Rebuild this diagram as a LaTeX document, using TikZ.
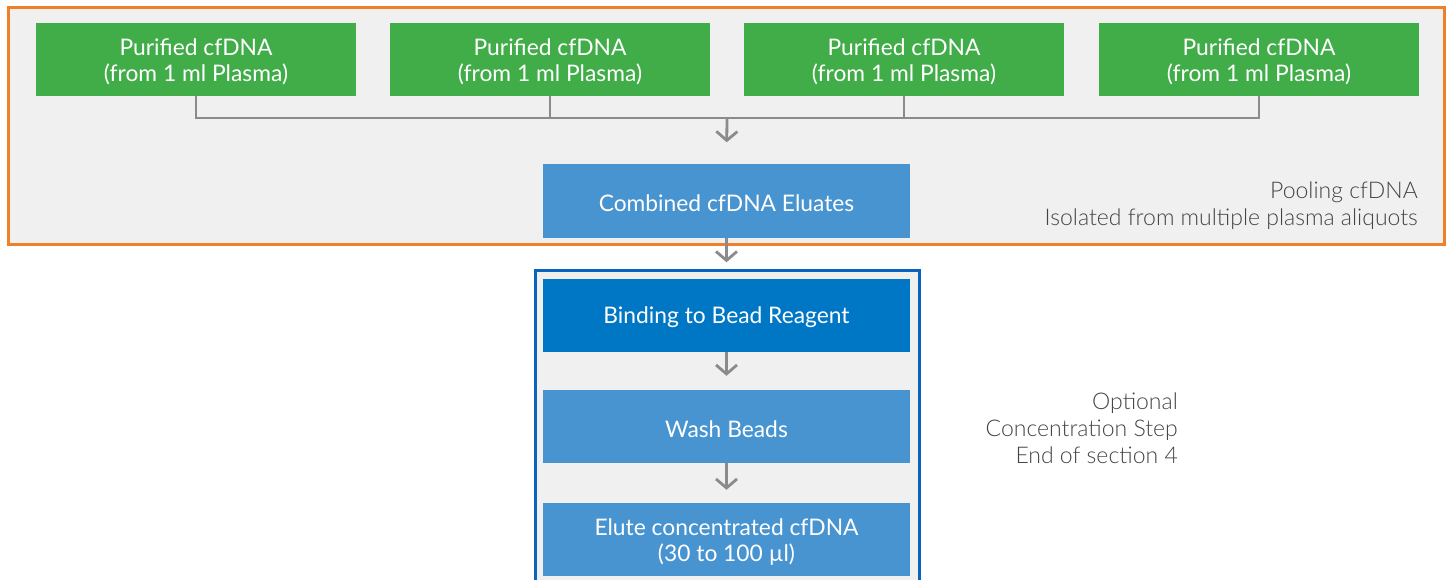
\documentclass[tikz,border=0pt]{standalone}
\usepackage{fontspec}
\setmainfont{Lato}
\newfontfamily\lightfont{Lato Light}
\usetikzlibrary{arrows.meta}
\definecolor{poolorange}{HTML}{F07F2A}
\definecolor{panelgray}{HTML}{F0F0F0}
\definecolor{stepgreen}{HTML}{41AD49}
\definecolor{stepblue}{HTML}{4794D1}
\definecolor{stepdark}{HTML}{0077C5}
\definecolor{frameblue}{HTML}{0B63BE}
\definecolor{linkgray}{HTML}{8B8B8E}
\definecolor{notegray}{HTML}{444444}
\tikzset{
  steptext/.style={text=white, align=center, inner sep=0pt, yshift=-2.5pt,
    font=\fontsize{22.8}{26}\selectfont},
  stepbox/.style={minimum width=320pt, minimum height=73pt, inner sep=0pt,
    label={[steptext]center:#1}},
  greenbox/.style={stepbox={#1}, fill=stepgreen},
  bluebox/.style={stepbox={#1}, fill=stepblue, minimum width=367pt},
  darkbox/.style={stepbox={#1}, fill=stepdark, minimum width=367pt},
  link/.style={draw=linkgray, line width=2.8pt},
  flow/.style={link, -{Straight Barb[length=9pt,width=21pt,line width=2.8pt]}},
  note/.style={anchor=east, align=right, text=notegray, inner sep=0pt,
    font=\lightfont\fontsize{23}{27}\selectfont},
}
\begin{document}
\begin{tikzpicture}[x=1pt, y=-1pt]
  \useasboundingbox (0,0) rectangle (1450,580);
  \clip (0,0) rectangle (1450,580);

  % pooling panel
  \draw[draw=poolorange, fill=panelgray, line width=3pt] (8,8) rectangle (1444,244);
  % concentration panel (continues below the page edge)
  \draw[draw=frameblue, fill=panelgray, line width=3pt] (535,270) rectangle (919,600);

  % purified eluates
  \node[greenbox={Purified cfDNA\\(from 1 ml Plasma)}] (g1) at (196,59.5) {};
  \node[greenbox={Purified cfDNA\\(from 1 ml Plasma)}] (g2) at (550,59.5) {};
  \node[greenbox={Purified cfDNA\\(from 1 ml Plasma)}] (g3) at (904,59.5) {};
  \node[greenbox={Purified cfDNA\\(from 1 ml Plasma)}] (g4) at (1259,59.5) {};

  \node[bluebox={Combined cfDNA Eluates}] (comb) at (726.5,201) {};
  \node[darkbox={Binding to Bead Reagent}] (bind) at (726.5,315) {};
  \node[bluebox={Wash Beads}] (wash) at (726.5,426.5) {};
  \node[bluebox={Elute concentrated cfDNA\\(30 to 100 µl)}] (elute) at (726.5,539.5) {};

  % collecting bar
  \coordinate (j) at (727,118);
  \draw[link] (g1.south) |- (j);
  \draw[link] (g4.south) |- (j);
  \draw[link] (g2.south) -- (g2.south |- j);
  \draw[link] (g3.south) -- (g3.south |- j);

  % flow arrows
  \draw[flow, shorten >=22pt] (j) -- (comb.north);
  \draw[flow, shorten >=16pt] (comb.south) -- (bind.north);
  \draw[flow, shorten >=14pt] (bind.south) -- (wash.north);
  \draw[flow, shorten >=13pt] (wash.south) -- (elute.north);

  % side notes
  \node[note] (poolnote) at (1418,205.5) {Pooling cfDNA\\Isolated from multiple plasma aliquots};
  \node[note] (concnote) at (1178,428) {Optional\\Concentration Step\\End of section 4};
\end{tikzpicture}
\end{document}
